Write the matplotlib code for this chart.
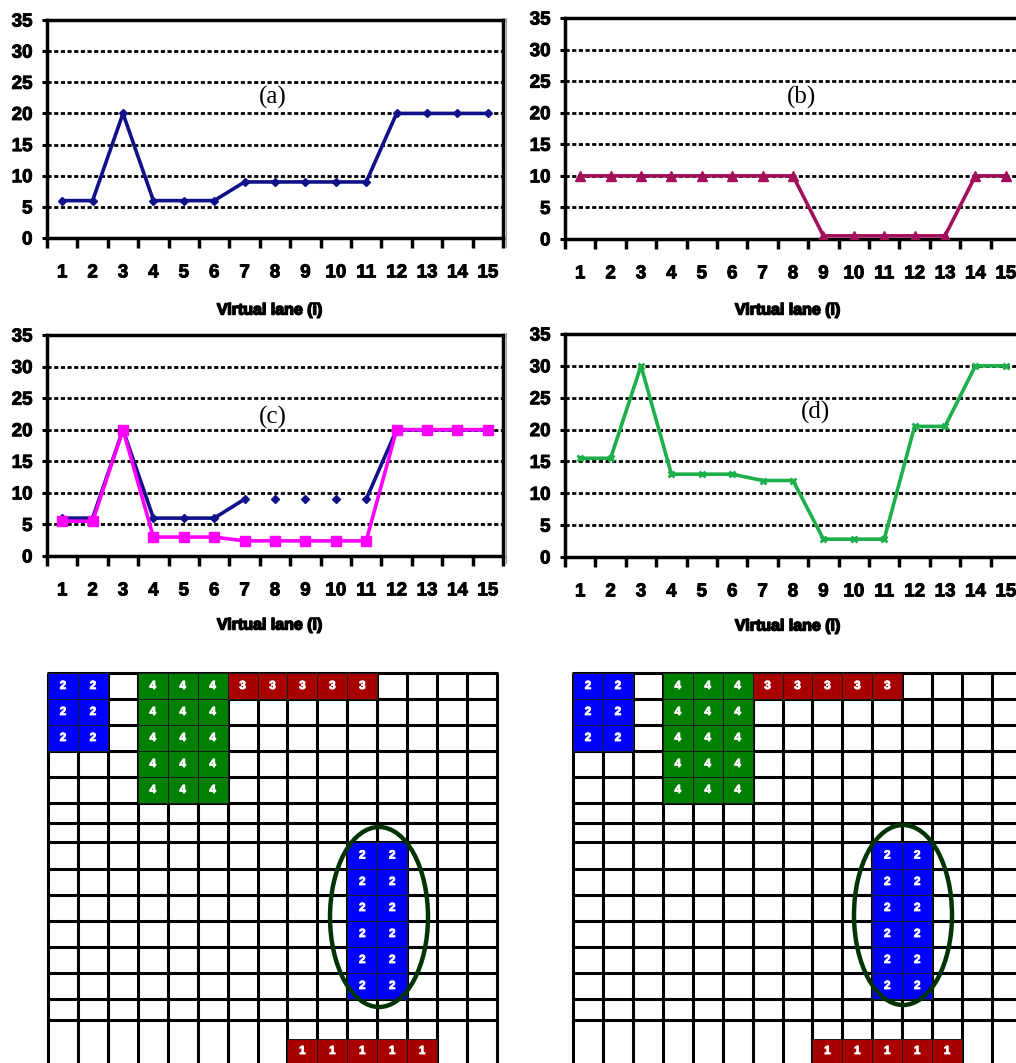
import matplotlib
matplotlib.use("Agg")
import matplotlib.pyplot as plt
import matplotlib.patheffects as pe
from matplotlib.patches import Ellipse, Rectangle
import numpy as np

plt.rcParams["font.family"] = ["Liberation Sans", "DejaVu Sans"]
plt.rcParams["font.weight"] = "bold"
plt.rcParams["lines.scale_dashes"] = False

W, H = 1016, 1063

# ---- per-lane values for the four panels ----
lanes = list(range(1, 16))
vals_a = [6, 6, 20, 6, 6, 6, 9, 9, 9, 9, 9, 20, 20, 20, 20]
vals_b = [10, 10, 10, 10, 10, 10, 10, 10, 0.5, 0.5, 0.5, 0.5, 0.5, 10, 10]
vals_c = [5.5, 5.5, 20, 3, 3, 3, 2.4, 2.4, 2.4, 2.4, 2.4, 20, 20, 20, 20]
vals_d = [15.5, 15.5, 30, 13, 13, 13, 12, 12, 2.8, 2.8, 2.8, 20.5, 20.5, 30, 30]
yticks = [0, 5, 10, 15, 20, 25, 30, 35]
xlabel = "Virtual lane (i)"

# ---- allocation maps: label, rows (first, last), columns (first, last), colour ----
map_cols = 15
blocks = [
    ("2", 0, 2, 0, 1, "#0000ff"),
    ("4", 0, 4, 3, 5, "#007f00"),
    ("3", 0, 0, 6, 10, "#a80000"),
    ("2", 7, 12, 10, 11, "#0000ff"),
    ("1", 15, 15, 8, 12, "#a80000"),
]

fig = plt.figure(figsize=(W / 100, H / 100), dpi=100)
heavy = [pe.withStroke(linewidth=0.7, foreground="black")]


def px_axes(left, top, right, bottom):
    return fig.add_axes([left / W, 1 - bottom / H, (right - left) / W, (bottom - top) / H])


def panel(box, series):
    ax = px_axes(*box)
    ax.set_xlim(0.5, 15.5)
    ax.set_ylim(0, 35)
    for y in yticks[1:-1]:
        ax.axhline(y, color="black", lw=2.0, ls=(0, (3.0, 1.8)), zorder=1)
    for s in series:
        s(ax)
    for sp in ax.spines.values():
        sp.set_linewidth(2.5)
    ax.set_yticks(yticks)
    ax.tick_params(axis="y", direction="out", length=3.5, width=2.2, pad=7, labelsize=13.5)
    ax.set_xticks(np.arange(0.5, 16, 1), labels=[])
    ax.set_xticks(lanes, labels=[str(i) for i in lanes], minor=True)
    ax.tick_params(axis="x", which="major", direction="out", length=7, width=2.5)
    ax.tick_params(axis="x", which="minor", length=0, pad=19, labelsize=13.5)
    for lbl in ax.get_yticklabels() + ax.get_xticklabels(minor=True):
        lbl.set_path_effects(heavy)
    return ax


navy, magenta, maroon, green = "#101088", "#ff00ff", "#a3105a", "#1db04a"

panel((47, 20, 503, 238), [
    lambda ax: ax.plot(lanes, vals_a, color=navy, lw=2.6, marker="D", ms=4.5, zorder=3),
])
panel((565, 18, 1021, 239), [
    lambda ax: ax.plot(lanes, vals_b, color=maroon, lw=2.6, marker="^", ms=6.5, zorder=3),
])


def series_c(ax):
    # first series joined only up to lane 7 and from lane 11 on
    ax.plot(lanes[:7], vals_a[:7], color=navy, lw=2.6, zorder=3)
    ax.plot(lanes[10:], vals_a[10:], color=navy, lw=2.6, zorder=3)
    ax.plot(lanes, vals_a, ls="none", color=navy, marker="D", ms=4.5, zorder=3)
    ax.plot(lanes, vals_c, color=magenta, lw=2.6, marker="s", ms=6.5, zorder=4)


panel((47, 335, 503, 556), [series_c])
panel((565, 334, 1021, 557), [
    lambda ax: ax.plot(lanes, vals_d, color=green, lw=2.6, marker="x", ms=5, mew=2, zorder=3),
])

# ---- overlay in pixel units for labels and the two allocation maps ----
ov = fig.add_axes([0, 0, 1, 1])
ov.set_xlim(0, W)
ov.set_ylim(H, 0)
ov.axis("off")

for x, y, tag in [(273, 97, "(a)"), (801, 97, "(b)"), (273, 417, "(c)"), (815, 412, "(d)")]:
    ov.text(x, y, tag, ha="center", va="center", family="Liberation Serif",
            weight="normal", size=18)
for x, y in [(270, 310), (788, 310), (270, 625), (788, 626)]:
    ov.text(x, y, xlabel, ha="center", va="center", size=11.5,
            path_effects=[pe.withStroke(linewidth=1.1, foreground="black")])
for y0, y1 in [(18, 247), (333, 563)]:
    ov.plot([506, 506], [y0, y1], color="#9a9a9a", lw=0.8)

row_edges = [0, 26, 52, 78, 104, 130, 150, 169, 196, 222, 248, 274, 300, 326, 347, 366, 420]
cell_w = 29.93
top = 673
for x0, (ex, ey) in [(48, (379, 917)), (573, (903, 915))]:
    col_x = [x0 + cell_w * k for k in range(map_cols + 1)]
    for cx in col_x:
        ov.plot([cx, cx], [top, H + 10], color="black", lw=2.2, zorder=2,
                solid_capstyle="butt")
    for ry in row_edges[:15]:
        ov.plot([col_x[0] - 1, col_x[-1] + 1], [top + ry, top + ry], color="black", lw=2.2,
                zorder=2, solid_capstyle="butt")
    for lab, r0, r1, c0, c1, col in blocks:
        for r in range(r0, r1 + 1):
            for c in range(c0, c1 + 1):
                y_a, y_b = top + row_edges[r], top + row_edges[r + 1]
                ov.add_patch(Rectangle((col_x[c], y_a), cell_w, y_b - y_a, facecolor=col,
                                       edgecolor="#1a1a1a", lw=0.7, zorder=3))
                yc = (y_a + y_b) / 2 if r < 15 else y_a + 12
                ov.text(col_x[c] + cell_w / 2, yc, lab, ha="center", va="center",
                        color="white", size=8.5, zorder=4,
                        path_effects=[pe.withStroke(linewidth=0.6, foreground="white")])
    ov.add_patch(Ellipse((ex, ey), 98, 180, fill=False, edgecolor="#023302", lw=3.2, zorder=5))

fig.savefig("out.png", dpi=100)
